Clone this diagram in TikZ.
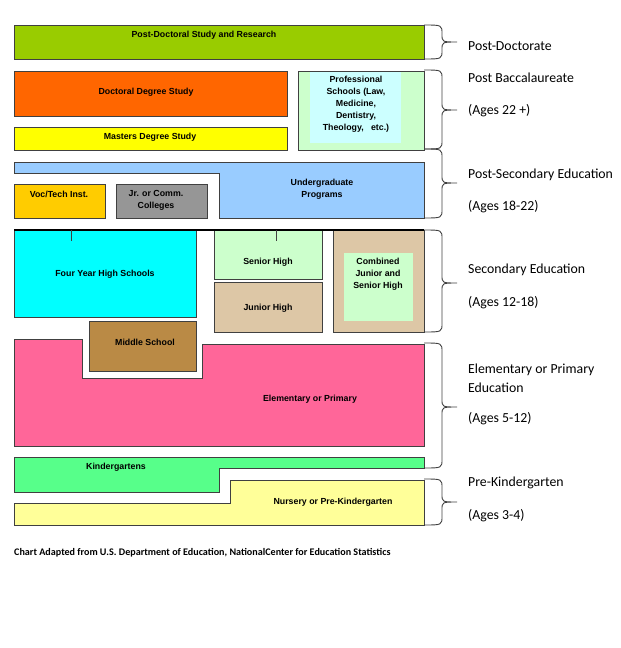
\documentclass[tikz,border=0pt]{standalone}
\usepackage{fontspec}
\setmainfont{Carlito}
\newfontfamily\boxfont{Liberation Sans}
\usetikzlibrary{positioning}
\definecolor{postdoc}{HTML}{99CC00}
\definecolor{doctoral}{HTML}{FF6600}
\definecolor{masters}{HTML}{FFFF00}
\definecolor{mint}{HTML}{CCFFCC}
\definecolor{paleaqua}{HTML}{CCFFFF}
\definecolor{undergrad}{HTML}{99CCFF}
\definecolor{voctech}{HTML}{FFCC00}
\definecolor{juniorcol}{HTML}{969696}
\definecolor{highschool}{HTML}{00FFFF}
\definecolor{tanbox}{HTML}{DDC7A6}
\definecolor{middle}{HTML}{BA8A45}
\definecolor{elementary}{HTML}{FF6699}
\definecolor{kinder}{HTML}{57FF8A}
\definecolor{nursery}{HTML}{FFFF99}
\definecolor{edge}{HTML}{404040}
\tikzset{
  tier/.style={draw=edge, line width=0.8pt},
  boxlabel/.style={font=\boxfont\bfseries\fontsize{8.8}{12}\selectfont, align=center, inner sep=0pt},
  stagelabel/.style={font=\fontsize{13.8}{19}\selectfont, anchor=west, align=left, inner sep=0pt},
  bracket/.style={draw=edge, line width=0.9pt},
}
% top, tip, bottom of one age brace
\newcommand{\agebrace}[3]{%
  \draw[bracket] (424,#1) .. controls (442,#1) .. (442,{#1+9}) -- (442,{#2-8})
    .. controls (442,#2) .. (457,#2) .. controls (442,#2) .. (442,{#2+8})
    -- (442,{#3-9}) .. controls (442,#3) .. (424,#3);}

\begin{document}
\begin{tikzpicture}[x=1pt,y=-1pt]
        \useasboundingbox (0,0) rectangle (621,648);
        % graduate level
        \draw[tier, fill=postdoc] (14,25) rectangle (424,59);
        \node[boxlabel] (postdoc) at (204,35) {Post-Doctoral Study and Research};
        \draw[tier, fill=doctoral] (14,71) rectangle (287,116);
        \node[boxlabel] (doctoral) at (146,92) {Doctoral Degree Study};
        \draw[tier, fill=masters] (14,127) rectangle (287,150);
        \node[boxlabel] (masters) at (150,137) {Masters Degree Study};
        \draw[tier, fill=mint] (298,71) rectangle (424,150);
        \fill[paleaqua] (310,72) rectangle (401,143);
        \node[boxlabel] (profschool) at (356,104) {Professional\\Schools (Law,\\Medicine,\\Dentistry,\\Theology,\ \ \ etc.)};
        % post-secondary
        \draw[tier, fill=undergrad] (14,162) -- (424,162) -- (424,218) -- (219,218) -- (219,173) -- (14,173) -- cycle;
        \node[boxlabel] (undergrad) at (322,189) {Undergraduate\\Programs};
        \draw[tier, fill=voctech] (14,184) rectangle (105,218);
        \node[boxlabel] (voctech) at (59,194) {Voc/Tech Inst.};
        \draw[tier, fill=juniorcol] (116,184) rectangle (207,218);
        \node[boxlabel] (juniorcol) at (156,200) {Jr. or Comm.\\Colleges};
        % secondary
        \draw[tier, fill=highschool] (14,230) rectangle (196,317);
        \node[boxlabel] (fouryear) at (105,274) {Four Year High Schools};
        \draw[tier, fill=mint] (214,230) rectangle (322,279);
        \node[boxlabel] (seniorhigh) at (268,262) {Senior High};
        \draw[tier, fill=tanbox] (214,282) rectangle (322,332);
        \node[boxlabel] (juniorhigh) at (268,308) {Junior High};
        \draw[tier, fill=tanbox] (333,230) rectangle (424,332);
        \fill[mint] (344,253) rectangle (413,321);
        \node[boxlabel] (combined) at (378,274) {Combined\\Junior and\\Senior High};
        \draw[line width=2pt] (14,230) -- (424,230);
        \draw[tier] (71,230) -- (71,241) (276,230) -- (276,241);
        % elementary and below
        \draw[tier, fill=middle] (89,321) rectangle (196,371);
        \node[boxlabel] (middle) at (145,342) {Middle School};
        \draw[tier, fill=elementary] (14,339) -- (82,339) -- (82,378) -- (202,378) -- (202,344) -- (424,344) -- (424,446) -- (14,446) -- cycle;
        \node[boxlabel] (elementary) at (310,399) {Elementary or Primary};
        \draw[tier, fill=kinder] (14,457) -- (424,457) -- (424,468) -- (219,468) -- (219,492) -- (14,492) -- cycle;
        \node[boxlabel] (kinder) at (116,467) {Kindergartens};
        \draw[tier, fill=nursery] (14,503) -- (230,503) -- (230,480) -- (424,480) -- (424,525) -- (14,525) -- cycle;
        \node[boxlabel] (nursery) at (333,502) {Nursery or Pre-Kindergarten};
        % braces and stage names
        \agebrace{25}{42}{59}
        \agebrace{70}{110}{149}
        \agebrace{149}{183}{218}
        \agebrace{230}{283}{332}
        \agebrace{343}{407}{468}
        \agebrace{479}{502}{525}
        \node[stagelabel] (postdocstage) at (468,46) {Post-Doctorate};
        \node[stagelabel] (postbacc) at (468,78) {Post Baccalaureate};
        \node[stagelabel] (postbaccage) at (468,111) {(Ages 22 +)};
        \node[stagelabel] (postsec) at (468,175) {Post-Secondary Education};
        \node[stagelabel] (postsecage) at (468,207) {(Ages 18-22)};
        \node[stagelabel] (secondary) at (468,270) {Secondary Education};
        \node[stagelabel] (secondaryage) at (468,303) {(Ages 12-18)};
        \node[stagelabel] (primary) at (468,378) {Elementary or Primary\\Education};
        \node[stagelabel] (primaryage) at (468,419) {(Ages 5-12)};
        \node[stagelabel] (prek) at (468,483) {Pre-Kindergarten};
        \node[stagelabel] (prekage) at (468,516) {(Ages 3-4)};
        \node[anchor=west, inner sep=0pt, font=\bfseries\fontsize{10.1}{12}\selectfont] (source) at (14,553)
          {Chart Adapted from U.S. Department of Education, NationalCenter for Education Statistics};
      \end{tikzpicture}
\end{document}
